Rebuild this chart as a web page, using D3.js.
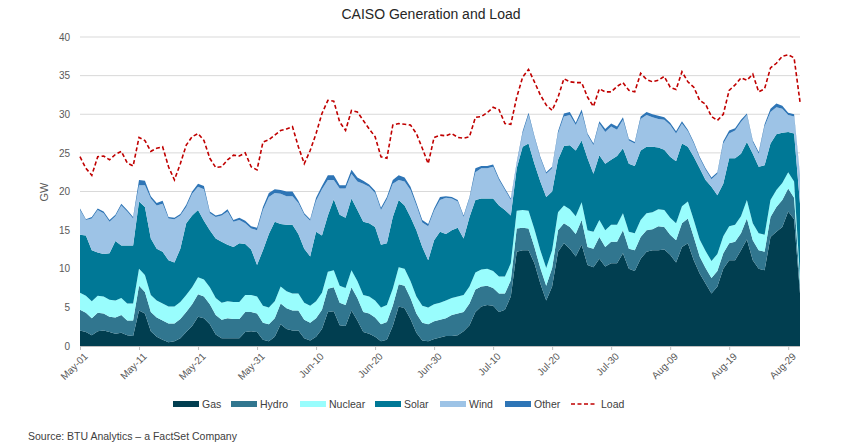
<!DOCTYPE html>
<html><head><meta charset="utf-8">
<script src="https://cdn.jsdelivr.net/npm/d3@7"></script>
<style>body{margin:0;background:#fff}svg{font-family:"Liberation Sans",Arial,sans-serif}</style>
</head><body><svg id="c" width="863" height="445"></svg>
<script>
const startDate = "2021-05-01";
const gas = [2.0,1.8,1.4,1.9,2.0,1.8,1.6,1.7,1.4,1.3, 4.6,4.2,1.9,1.2,0.8,0.5,0.6,1.0,1.8,2.6, 3.8,3.6,2.8,1.5,1.0,1.0,1.0,1.0,1.8,1.9, 1.8,0.8,0.6,1.2,2.8,2.2,2.0,2.0,1.0,0.7, 1.2,2.2,4.4,4.5,2.7,2.6,4.6,3.3,1.8,1.6, 1.2,0.6,0.8,2.6,5.1,4.9,3.5,1.7,0.7,0.6, 0.9,1.1,
 1.3,1.3,1.4,1.9,2.7,4.4,5.1,5.3,5.2,4.4,4.7,6.4,12.2,12.4,12.4,10.7,8.1,5.9,7.7,12.2,13.3,12.6,11.6,13.1,10.5,10.2,11.3,10.3,10.7,10.7,12.0,10.0,9.7,11.3,12.2,12.4,12.4,12.5,11.8,10.8,12.8,13.3,11.1,9.4,8.1,6.8,7.7,10.0,11.1,11.1,12.4,13.8,11.1,10.0,9.8,14.1,14.8,15.4,17.4,16.4,6.8];
const hydro = [2.7,2.5,2.2,2.4,2.2,2.0,2.1,2.3,1.9,2.0, 3.2,2.8,2.5,2.5,2.5,2.4,2.3,2.5,2.6,2.8, 2.9,2.8,2.6,2.5,2.4,2.6,2.5,2.5,2.6,2.5, 2.4,2.2,2.2,2.4,2.7,2.7,2.6,2.6,2.4,2.3, 2.4,2.5,3.0,3.1,2.9,2.7,3.0,2.9,2.6,2.6, 2.5,2.2,2.3,2.6,2.9,2.9,2.7,2.5,2.3,2.2, 2.3,2.3,
 2.3,2.7,2.8,2.5,2.8,2.9,2.6,2.5,2.3,2.4,2.1,2.1, 3.0,2.9,2.8,2.1,2.0,1.9,2.4,2.8,2.6,2.8,2.9,3.2, 2.3,2.4,2.8,2.5,2.8,2.8,3.0,2.6,2.7,2.8,2.8,2.7,3.1,2.9,2.6,2.9,3.1,3.2,3.0,2.2, 2.0,2.0,2.0,2.0, 2.2,2.4,2.2,2.7,2.6,2.4,2.4,2.6,3.2,3.5,3.0,2.8,1.1];
const nuclear = [2.2,2.2,2.2,2.2,2.2,2.2,2.2,2.2,2.2,2.2, 2.2,2.2,2.2,2.2,2.2,2.2,2.2,2.2,2.2,2.2, 2.2,2.2,2.2,2.2,2.2,2.2,2.2,2.2,2.2,2.2, 2.2,2.2,2.2,2.2,2.2,2.2,2.2,2.2,2.2,2.2, 2.2,2.2,2.2,2.2,2.2,2.2,2.2,2.2,2.2,2.2, 2.2,2.2,2.2,2.2,2.2,2.2,2.2,2.2,2.2,2.2, 2.2,2.2,
 2.3,2.2,2.2,2.2,2.2,2.2,2.2,2.2,2.2,2.2,2.2,2.2, 2.3,2.3,2.3,2.3,2.3,2.3,2.3,2.3,2.3,2.3,2.3,2.3, 2.2,2.2,2.2,2.2,2.2,2.2,2.2,2.2,2.2,2.2,2.2,2.2,2.2,2.2,2.2,2.2,2.2,2.2,2.2,2.2, 2.2,2.2,2.2,2.2, 2.2,2.2,2.2,2.4,2.2,2.2,2.2,2.2,2.2,2.2,2.1,2.1,1.0];
const solar = [7.5,7.8,6.6,5.6,5.5,6.0,7.7,6.8,7.5,7.5, 8.7,8.8,7.3,6.7,6.7,6.0,5.7,6.9,9.3,9.3, 8.7,7.6,7.4,7.7,7.9,7.3,7.1,7.6,6.6,5.9, 4.1,7.2,9.5,10.3,8.1,8.6,8.9,7.7,7.0,6.4, 9.0,7.4,7.3,9.2,9.2,9.1,9.3,9.2,9.5,9.5, 9.5,8.1,8.0,9.3,8.7,8.2,8.3,8.6,7.6,6.1, 8.3,9.2,
 8.6,8.8,8.9,7.3,9.0,9.4,9.2,9.1,9.4,9.2,8.6,6.2, 5.5,8.2,8.7,8.5,8.9,9.2,7.6,6.8,7.7,8.3,8.5,8.0, 9.3,7.5,8.4,8.6,8.4,8.9,8.4,8.8,8.7,9.0,8.6,8.5,8.0,7.8,7.9,8.0,8.1,7.1,8.2,9.2, 9.2,9.6,7.6,6.8, 8.8,8.6,8.1,7.5,9.0,8.6,9.0,7.3,7.2,6.5,5.2,6.2,9.5];
const wind = [3.2,2.0,4.1,5.5,5.3,4.1,3.2,5.2,4.4,3.5, 2.1,2.8,5.2,5.6,6.2,5.4,5.6,4.3,2.1,2.8, 3.0,4.1,2.2,2.8,3.4,4.3,3.3,3.0,2.7,2.7, 4.5,5.2,4.8,3.7,3.9,3.7,3.7,4.0,4.4,4.6, 4.0,6.0,4.6,2.5,3.4,3.8,3.2,3.7,4.9,4.7, 4.4,4.5,5.7,4.3,2.6,3.1,3.5,3.2,3.2,4.4, 3.8,4.1,
 4.7,4.1,3.4,2.8,2.4,3.6,3.9,3.9,4.1,3.3,2.6,2.0, 0.6,1.7,3.7,3.4,3.0,3.0,3.0,3.4,3.8,3.9,3.3,3.6, 3.0,3.7,4.1,4.1,4.3,3.4,3.7,3.0,2.9,4.1,4.1,3.8,3.7,3.9,4.1,3.6,2.6,2.0,1.7,1.3, 1.3,1.0,2.8,5.2, 3.2,3.6,4.1,3.5,1.5,1.7,5.0,4.1,3.5,3.1,2.2,2.2,3.5];
const other = [0.2,0.1,0.2,0.2,0.2,0.2,0.2,0.2,0.2,0.2, 0.7,0.6,0.3,0.3,0.4,0.2,0.2,0.2,0.3,0.3, 0.4,0.4,0.2,0.2,0.2,0.3,0.2,0.3,0.3,0.3, 0.3,0.4,0.5,0.5,0.5,0.6,0.6,0.3,0.2,0.2, 0.4,0.4,0.6,0.6,0.4,0.4,0.5,0.5,0.4,0.3, 0.3,0.3,0.3,0.5,0.6,0.5,0.4,0.3,0.3,0.3, 0.3,0.4,
 0.2,0.2,0.2,0.2,0.2,0.5,0.3,0.3,0.3,0.2,0.2,0.2, 0.2,0.3,0.3,0.2,0.2,0.2,0.2,0.3,0.4,0.4,0.3,0.4, 0.2,0.2,0.3,0.4,0.4,0.4,0.3,0.2,0.2,0.3,0.4,0.4,0.4,0.3,0.3,0.3,0.3,0.2,0.2,0.2, 0.2,0.2,0.2,0.3, 0.4,0.3,0.3,0.2,0.2,0.2,0.3,0.4,0.5,0.4,0.3,0.3,0.2];
const load = [24.5,23.0,22.1,24.5,24.6,24.1,24.8,25.2,23.7,23.3, 27.0,26.6,25.2,25.6,25.8,23.2,21.5,23.6,26.0,27.1, 27.5,26.6,24.3,23.1,23.2,24.1,24.7,24.6,25.0,23.2, 22.8,26.4,26.7,27.3,27.9,28.1,28.4,25.8,23.6,25.3, 27.5,30.1,31.8,31.7,29.0,27.9,30.5,30.3,29.2,28.1, 27.1,24.5,24.3,28.6,28.8,28.7,28.6,27.5,25.6,23.6, 27.0,27.3,
 27.2,27.5,27.0,26.9,27.1,29.6,29.7,30.2,30.9,30.6,28.8,28.7,32.2,34.8,35.8,34.2,32.5,31.2,30.5,32.2,34.6,34.2,34.1,34.1,32.2,31.0,33.3,32.9,32.9,33.6,34.1,33.1,32.9,35.3,34.5,34.2,34.4,34.9,33.5,33.2,35.5,34.2,33.5,31.8,31.3,29.7,29.2,30.0,33.1,33.8,34.7,34.4,35.2,32.9,33.3,36.0,36.6,37.5,37.7,37.3,31.6];
const seriesNames = ["Gas","Hydro","Nuclear","Solar","Wind","Other"];
const colors = ["#013e50","#31768f","#99fdfd","#007896","#9dc3e6","#2e75b6"];
const yTicks = [0,5,10,15,20,25,30,35,40];
const tickEvery = 10;

const svg = d3.select("#c");
const L=80,R=800,T=37,B=346;
const parse = d3.timeParse("%Y-%m-%d");
const d0 = parse(startDate);
const dates = gas.map((_,i)=>d3.timeDay.offset(d0,i));
const arrs = [gas,hydro,nuclear,solar,wind,other];
const table = dates.map((d,i)=>{const o={date:d};seriesNames.forEach((n,k)=>o[n]=arrs[k][i]);return o;});
const x = d3.scaleTime().domain([dates[0],dates[dates.length-1]]).range([L,R]);
const y = d3.scaleLinear().domain([0,40]).range([B,T]);

svg.append("g").selectAll("line").data(yTicks).join("line")
 .attr("x1",L).attr("x2",R).attr("y1",d=>y(d)).attr("y2",d=>y(d)).attr("stroke","#d9d9d9");

const stack = d3.stack().keys(seriesNames)(table);
const area = d3.area().x(d=>x(d.data.date)).y0(d=>y(d[0])).y1(d=>y(d[1]));
svg.append("g").selectAll("path").data(stack).join("path").attr("d",area).attr("fill",(d,i)=>colors[i]);

svg.append("path").datum(load).attr("fill","none").attr("stroke","#c00000").attr("stroke-width",1.6)
 .attr("stroke-dasharray","4,2.5")
 .attr("d",d3.line().x((d,i)=>x(dates[i])).y(d=>y(d)));

const ya = svg.append("g").attr("transform",`translate(${L},0)`).call(d3.axisLeft(y).tickValues(yTicks).tickSize(0).tickPadding(10));
ya.select(".domain").remove();
ya.selectAll("text").attr("font-size",10).attr("fill","#595959").attr("font-family","Liberation Sans, Arial");

const tickDates = dates.filter((d,i)=>i%tickEvery===0);
const xa = svg.append("g").attr("transform",`translate(0,${B})`).call(d3.axisBottom(x).tickValues(tickDates).tickSize(4).tickFormat(d3.timeFormat("%b-%d")));
xa.select(".domain").attr("stroke","#bfbfbf").attr("d",`M${L},0.5H${R}`);
xa.selectAll("line").attr("stroke","#bfbfbf");
xa.selectAll("text").attr("font-size",10).attr("fill","#595959").attr("font-family","Liberation Sans, Arial")
 .attr("text-anchor","end").attr("dy",0).attr("transform","translate(3,6) rotate(-45)");

svg.append("text").attr("x",431).attr("y",19).attr("text-anchor","middle").attr("font-size",14).attr("fill","#262626").text("CAISO Generation and Load");
svg.append("text").attr("transform","translate(48,192) rotate(-90)").attr("text-anchor","middle").attr("font-size",11).attr("fill","#595959").text("GW");

const lg = svg.append("g");
const lx = [173,231,300,375,440,505];
seriesNames.forEach((n,i)=>{
 lg.append("rect").attr("x",lx[i]).attr("y",401).attr("width",26).attr("height",6).attr("fill",colors[i]);
 lg.append("text").attr("x",lx[i]+29).attr("y",408).attr("font-size",10.5).attr("fill","#404040").text(n);
});
lg.append("line").attr("x1",571).attr("x2",597).attr("y1",404).attr("y2",404).attr("stroke","#c00000").attr("stroke-width",1.6).attr("stroke-dasharray","4,2.5");
lg.append("text").attr("x",601).attr("y",408).attr("font-size",10.5).attr("fill","#404040").text("Load");

svg.append("text").attr("x",28).attr("y",440).attr("font-size",10.5).attr("fill","#404040").text("Source: BTU Analytics – a FactSet Company");
</script></body></html>
